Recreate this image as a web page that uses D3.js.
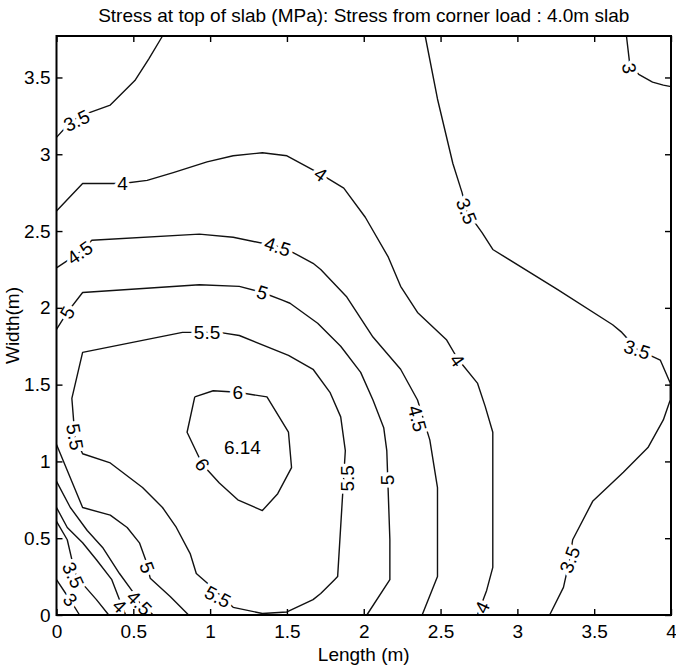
<!DOCTYPE html>
<html>
<head>
<meta charset="utf-8">
<script src="https://cdn.jsdelivr.net/npm/d3@7"></script>
<style>
  body { margin: 0; background: #fff; }
  svg { display: block; font-family: "Liberation Sans", Arial, sans-serif; }
</style>
</head>
<body>
<svg id="chart" width="676" height="669"></svg>
<script>
// ---------------------------------------------------------------------------
// DATA (in metres) ----------------------------------------------------------
// ---------------------------------------------------------------------------

var titleText = "Stress at top of slab (MPa): Stress from corner load : 4.0m slab";
var xLabelText = "Length (m)";
var yLabelText = "Width(m)";

var xDomain = [0, 4];
var yDomain = [0, 3.77];
var xTicks = [0, 0.5, 1, 1.5, 2, 2.5, 3, 3.5, 4];
var yTicks = [0, 0.5, 1, 1.5, 2, 2.5, 3, 3.5];

// contour lines, each a list of [length, width] points
var c30Corner = [[0, 0.23], [0.06, 0.14], [0.10, 0.08], [0.15, 0]];
var c30TopRight = [[3.71, 3.77], [3.73, 3.60], [3.79, 3.52], [3.88, 3.47], [3.95, 3.45], [4.0, 3.44]];
var c35Corner = [[0, 0.61], [0.07, 0.49], [0.10, 0.36], [0.13, 0.25], [0.19, 0.18], [0.26, 0.10], [0.34, 0]];
var c35TopLeft = [[0, 3.11], [0.10, 3.22], [0.21, 3.27], [0.35, 3.32], [0.51, 3.48], [0.60, 3.62], [0.69, 3.77]];
var c35Right = [[2.40, 3.77], [2.48, 3.36], [2.58, 2.94], [2.64, 2.75], [2.67, 2.63], [2.77, 2.49], [2.84, 2.38],
                [3.26, 2.12], [3.62, 1.89], [3.68, 1.84], [3.78, 1.73], [3.93, 1.66], [3.995, 1.51], [3.995, 1.40],
                [3.95, 1.27], [3.85, 1.09], [3.69, 0.93], [3.49, 0.74], [3.36, 0.49], [3.34, 0.36], [3.30, 0.18], [3.21, 0]];
var c40Corner = [[0, 0.70], [0.07, 0.57], [0.17, 0.47], [0.26, 0.36], [0.36, 0.23], [0.41, 0.10], [0.45, 0]];
var c40Main = [[0, 2.63], [0.17, 2.81], [0.43, 2.81], [0.59, 2.83], [0.76, 2.88], [0.98, 2.95], [1.15, 2.99],
               [1.34, 3.01], [1.50, 2.99], [1.72, 2.87], [1.87, 2.78], [2.01, 2.59], [2.16, 2.33], [2.24, 2.14],
               [2.35, 1.97], [2.54, 1.79], [2.61, 1.67], [2.74, 1.51], [2.79, 1.36], [2.84, 1.19], [2.84, 0.83],
               [2.84, 0.31], [2.80, 0.16], [2.74, 0]];
var c45Corner = [[0, 0.87], [0.09, 0.70], [0.20, 0.55], [0.30, 0.44], [0.41, 0.27], [0.49, 0.16], [0.54, 0.08], [0.63, 0]];
var c45Main = [[0, 2.26], [0.15, 2.36], [0.23, 2.44], [0.93, 2.48], [1.15, 2.46], [1.44, 2.40], [1.54, 2.36],
               [1.67, 2.29], [1.72, 2.25], [1.89, 2.07], [2.06, 1.81], [2.24, 1.60], [2.35, 1.40], [2.43, 1.14],
               [2.48, 0.83], [2.48, 0.25], [2.38, 0]];
var c50Corner = [[0, 1.11], [0.17, 0.70], [0.35, 0.65], [0.46, 0.57], [0.54, 0.47], [0.58, 0.36], [0.61, 0.24],
                 [0.74, 0.12], [0.86, 0]];
var c50Main = [[0, 1.86], [0.07, 1.97], [0.17, 2.10], [0.93, 2.15], [1.19, 2.14], [1.34, 2.10], [1.47, 2.05],
               [1.52, 2.03], [1.70, 1.90], [1.85, 1.75], [1.98, 1.58], [2.06, 1.40], [2.13, 1.22], [2.15, 1.07],
               [2.17, 0.49], [2.17, 0.23], [2.02, 0]];
var c55Loop = [[0.98, 1.84], [1.06, 1.84], [1.19, 1.82], [1.51, 1.69], [1.67, 1.60], [1.78, 1.45], [1.85, 1.29],
               [1.88, 1.07], [1.83, 0.25], [1.81, 0.23], [1.72, 0.14], [1.67, 0.10], [1.50, 0.02], [1.34, 0.01],
               [1.15, 0.05], [0.99, 0.20], [0.91, 0.27], [0.87, 0.40], [0.78, 0.57], [0.69, 0.70], [0.56, 0.83],
               [0.35, 0.99], [0.17, 1.05], [0.12, 1.16], [0.10, 1.41], [0.17, 1.71], [0.82, 1.84], [0.98, 1.84]];
var c60Loop = [[0.90, 1.42], [1.02, 1.46], [1.18, 1.45], [1.37, 1.42], [1.51, 1.19], [1.53, 0.96], [1.44, 0.79],
               [1.34, 0.68], [1.18, 0.75], [1.06, 0.86], [0.95, 0.98], [0.85, 1.19], [0.90, 1.42]];

var contourLines = [c30Corner, c30TopRight, c35Corner, c35TopLeft, c35Right, c40Corner, c40Main,
                    c45Corner, c45Main, c50Corner, c50Main, c55Loop, c60Loop];

// inline contour labels: text, length, width, rotation (deg)
var contourLabels = [
  ["3.5", 0.13, 3.22, -25], ["4", 0.43, 2.81, 0], ["4", 1.72, 2.87, 35],
  ["4.5", 0.15, 2.36, -35], ["4.5", 1.44, 2.40, 18], ["5", 0.07, 1.97, -60],
  ["5", 1.34, 2.10, 18], ["5.5", 0.98, 1.84, 0], ["5.5", 0.12, 1.16, 80],
  ["6", 1.18, 1.45, 0], ["6", 0.95, 0.98, 55], ["5", 0.59, 0.31, 70],
  ["5.5", 1.05, 0.12, 28], ["4.5", 0.54, 0.08, 45], ["4", 0.41, 0.06, 45],
  ["3.5", 0.11, 0.26, 65], ["3", 0.09, 0.10, 50], ["3.5", 2.67, 2.63, 68],
  ["4", 2.61, 1.66, 55], ["4.5", 2.35, 1.28, 75], ["5", 2.15, 0.88, -90],
  ["5.5", 1.89, 0.89, -90], ["4", 2.77, 0.05, -65], ["3.5", 3.34, 0.36, -70],
  ["3.5", 3.78, 1.73, 18], ["3", 3.73, 3.56, 80]
];

// peak value marker
var peakLabel = ["6.14", 1.21, 1.09];

// ---------------------------------------------------------------------------
// DRAWING -------------------------------------------------------------------
// ---------------------------------------------------------------------------

var svg = d3.select("#chart");
var plot = { left: 56.5, right: 671, top: 36, bottom: 615 };
var fontSize = "19px";

var x = d3.scaleLinear().domain(xDomain).range([plot.left, plot.right]);
var y = d3.scaleLinear().domain(yDomain).range([plot.bottom, plot.top]);

// Contour lines
var line = d3.line()
  .x(function(d) { return x(d[0]); })
  .y(function(d) { return y(d[1]); });

svg.append("g")
  .selectAll("path")
  .data(contourLines)
  .enter().append("path")
    .attr("d", line)
    .attr("fill", "none")
    .attr("stroke", "#111")
    .attr("stroke-width", 1.4)
    .attr("stroke-linejoin", "round");

// Inline labels with white halo to cut the line
svg.append("g")
  .selectAll("text")
  .data(contourLabels)
  .enter().append("text")
    .attr("transform", function(d) {
      return "translate(" + x(d[1]) + "," + y(d[2]) + ") rotate(" + d[3] + ")";
    })
    .attr("text-anchor", "middle")
    .attr("dy", "0.36em")
    .style("font-size", fontSize)
    .attr("fill", "#000")
    .attr("stroke", "#fff")
    .attr("stroke-width", 7)
    .attr("stroke-linejoin", "round")
    .attr("paint-order", "stroke")
    .text(function(d) { return d[0]; });

svg.append("text")
  .attr("x", x(peakLabel[1]))
  .attr("y", y(peakLabel[2]))
  .attr("dy", "0.36em")
  .attr("text-anchor", "middle")
  .style("font-size", fontSize)
  .text(peakLabel[0]);

// Axes: inward ticks on all four sides
var tickLen = 6;
var fmt = function(d) { return String(d); };

var xAxis = svg.append("g")
  .attr("transform", "translate(0," + plot.bottom + ")")
  .call(d3.axisBottom(x).tickValues(xTicks).tickFormat(fmt).tickSizeInner(-tickLen).tickSizeOuter(0).tickPadding(10));
var xAxisTop = svg.append("g")
  .attr("transform", "translate(0," + plot.top + ")")
  .call(d3.axisTop(x).tickValues(xTicks).tickFormat("").tickSizeInner(-tickLen).tickSizeOuter(0));
var yAxis = svg.append("g")
  .attr("transform", "translate(" + plot.left + ",0)")
  .call(d3.axisLeft(y).tickValues(yTicks).tickFormat(fmt).tickSizeInner(-tickLen).tickSizeOuter(0).tickPadding(6));
var yAxisRight = svg.append("g")
  .attr("transform", "translate(" + plot.right + ",0)")
  .call(d3.axisRight(y).tickValues(yTicks).tickFormat("").tickSizeInner(-tickLen).tickSizeOuter(0));

[xAxis, xAxisTop, yAxis, yAxisRight].forEach(function(g) {
  g.select(".domain").remove();
  g.selectAll(".tick line").attr("stroke", "#000").attr("stroke-width", 1.4);
  g.selectAll(".tick text")
    .attr("fill", "#000")
    .style("font-size", fontSize)
    .style("font-family", "'Liberation Sans', Arial, sans-serif");
});

// Frame
svg.append("rect")
  .attr("x", plot.left)
  .attr("y", plot.top)
  .attr("width", plot.right - plot.left)
  .attr("height", plot.bottom - plot.top)
  .attr("fill", "none")
  .attr("stroke", "#000")
  .attr("stroke-width", 2);

// Title and axis labels
svg.append("text")
  .attr("x", (plot.left + plot.right) / 2)
  .attr("y", 22)
  .attr("text-anchor", "middle")
  .style("font-size", fontSize)
  .text(titleText);

svg.append("text")
  .attr("x", (plot.left + plot.right) / 2)
  .attr("y", 661)
  .attr("text-anchor", "middle")
  .style("font-size", fontSize)
  .text(xLabelText);

svg.append("text")
  .attr("transform", "translate(19," + ((plot.top + plot.bottom) / 2) + ") rotate(-90)")
  .attr("text-anchor", "middle")
  .style("font-size", fontSize)
  .text(yLabelText);
</script>
</body>
</html>
